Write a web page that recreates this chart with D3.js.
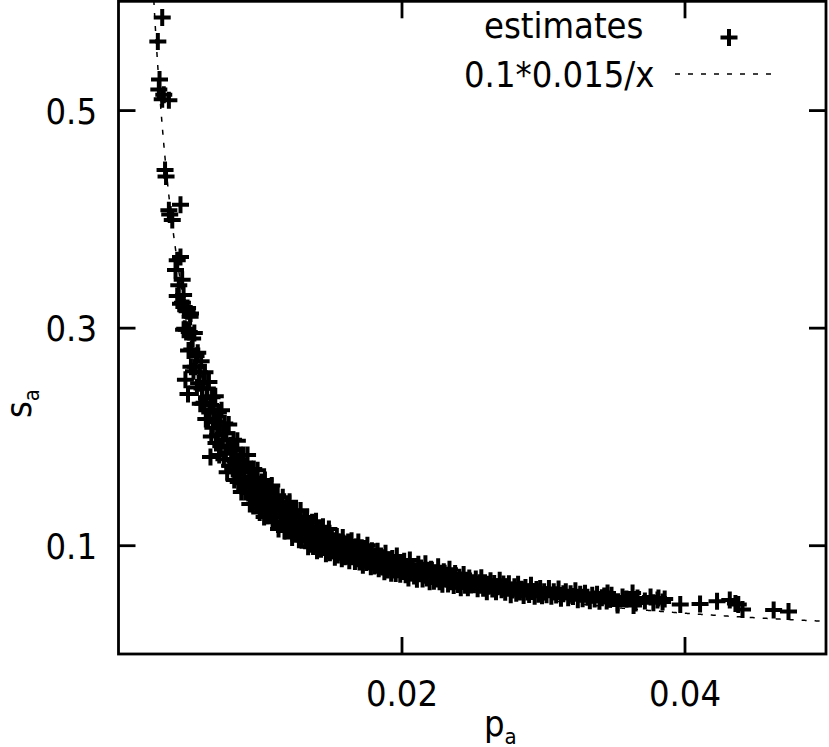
<!DOCTYPE html>
<html><head><meta charset="utf-8">
<script src="https://cdn.jsdelivr.net/npm/d3@7"></script>
<style>body{margin:0;background:#fff}</style>
</head><body><svg id="c" width="829" height="747"></svg>
<script>
const xTicks = [0.02, 0.04];
const yTicks = [0.1, 0.3, 0.5];
const legendLabels = ["estimates", "0.1*0.015/x"];
const fitA = 0.1, fitB = 0.015;
const xDomain = [0, 0.05];
const yDomain = [0, 0.6];

// estimates: [p_a, s_a]
const estimates = [
[0.00309,0.585],[0.00278,0.563],[0.00290,0.528],[0.00285,0.519],[0.00309,0.510],[0.00356,0.509],[0.00320,0.514],
[0.00329,0.445],[0.00336,0.439],[0.00356,0.408],[0.00438,0.413],[0.00380,0.399],[0.00362,0.404],
[0.00415,0.362],[0.00438,0.365],[0.00403,0.353],[0.00450,0.344],[0.00426,0.339],
[0.00415,0.329],[0.00462,0.319],[0.00509,0.313],[0.00438,0.322],[0.00485,0.315],
[0.00491,0.239],[0.00473,0.252],[0.00460,0.298],[0.00650,0.181],
[0.00452,0.323],[0.00460,0.330],[0.00468,0.299],[0.00475,0.316],[0.00480,0.298],[0.00488,0.318],[0.00495,0.279],
[0.00500,0.296],[0.00506,0.310],[0.00512,0.264],[0.00518,0.280],[0.00524,0.290],[0.00530,0.260],[0.00536,0.295],
[0.00542,0.264],[0.00548,0.274],[0.00554,0.245],[0.00560,0.277],[0.00566,0.249],[0.00572,0.259],[0.00578,0.230],
[0.00584,0.269],[0.00590,0.244],[0.00596,0.230],
[0.00600,0.250],[0.00605,0.231],[0.00611,0.259],[0.00617,0.216],[0.00622,0.235],[0.00628,0.244],[0.00633,0.216],
[0.00639,0.250],[0.00645,0.222],[0.00650,0.229],[0.00656,0.200],[0.00661,0.236],[0.00667,0.208],[0.00672,0.225],
[0.00678,0.214],[0.00684,0.237],[0.00689,0.194],[0.00695,0.213],[0.00700,0.201],[0.00706,0.222],[0.00712,0.183],
[0.00717,0.212],[0.00723,0.191],[0.00728,0.224],[0.00734,0.196],[0.00740,0.203],[0.00745,0.179],[0.00751,0.212],
[0.00757,0.185],[0.00762,0.203],[0.00768,0.167],[0.00773,0.190],[0.00779,0.211],[0.00785,0.173],[0.00790,0.192],
[0.00796,0.178],
[0.00802,0.187],[0.00807,0.170],[0.00813,0.197],[0.00818,0.160],[0.00824,0.177],[0.00829,0.187],[0.00835,0.168],
[0.00840,0.196],[0.00846,0.158],[0.00851,0.175],[0.00857,0.167],[0.00862,0.183],[0.00868,0.149],[0.00873,0.174],
[0.00879,0.157],[0.00884,0.183],[0.00890,0.163],[0.00895,0.149],[0.00901,0.173],[0.00906,0.156],[0.00912,0.183],
[0.00917,0.148],[0.00923,0.163],[0.00928,0.138],[0.00934,0.170],[0.00939,0.153],[0.00945,0.162],[0.00950,0.138],
[0.00956,0.170],[0.00961,0.145],[0.00967,0.152],[0.00972,0.162],[0.00978,0.137],[0.00983,0.169],[0.00989,0.144],
[0.00994,0.152],[0.00998,0.130],[0.00810,0.179],[0.00870,0.170],[0.00930,0.157],[0.00960,0.161],
[0.01005,0.147],[0.01011,0.158],[0.01017,0.134],[0.01023,0.150],[0.01029,0.126],[0.01035,0.160],[0.01041,0.136],
[0.01047,0.150],[0.01053,0.127],[0.01059,0.142],[0.01065,0.152],[0.01071,0.130],[0.01077,0.136],[0.01083,0.155],
[0.01089,0.121],[0.01095,0.141],[0.01101,0.128],[0.01107,0.145],[0.01113,0.122],[0.01119,0.133],[0.01125,0.146],
[0.01131,0.115],[0.01137,0.134],[0.01143,0.126],[0.01149,0.138],[0.01155,0.119],[0.01161,0.144],[0.01167,0.126],
[0.01173,0.113],[0.01179,0.131],[0.01185,0.120],[0.01191,0.135],[0.01197,0.114],[0.01203,0.125],[0.01209,0.140],
[0.01215,0.115],[0.01221,0.128],[0.01227,0.107],[0.01233,0.132],[0.01239,0.117],[0.01245,0.122],[0.01251,0.110],
[0.01257,0.132],[0.01263,0.113],[0.01269,0.125],[0.01275,0.105],[0.01281,0.116],[0.01287,0.132],[0.01293,0.108],
[0.01299,0.119],
[0.01305,0.112],[0.01312,0.123],[0.01319,0.104],[0.01326,0.115],[0.01333,0.126],[0.01340,0.0985],[0.01347,0.111],
[0.01354,0.117],[0.01361,0.104],[0.01368,0.121],[0.01375,0.0989],[0.01382,0.110],[0.01389,0.104],[0.01396,0.122],
[0.01403,0.0948],[0.01410,0.111],[0.01417,0.104],[0.01424,0.114],[0.01431,0.0964],[0.01438,0.105],[0.01445,0.117],
[0.01452,0.0978],[0.01459,0.106],[0.01466,0.0921],[0.01473,0.109],[0.01480,0.100],[0.01487,0.115],[0.01494,0.0930],
[0.01501,0.103],[0.01508,0.109],[0.01515,0.0950],[0.01522,0.104],[0.01529,0.0889],[0.01536,0.0977],[0.01543,0.108],
[0.01550,0.0910],[0.01557,0.100],[0.01564,0.0940],[0.01571,0.103],[0.01578,0.0875],[0.01585,0.107],[0.01592,0.0955],
[0.01599,0.0894],
[0.01607,0.0983],[0.01615,0.0898],[0.01623,0.103],[0.01631,0.0858],[0.01639,0.0933],[0.01647,0.104],[0.01655,0.0894],
[0.01663,0.0962],[0.01671,0.0850],[0.01679,0.0983],[0.01687,0.0895],[0.01695,0.103],[0.01703,0.0846],[0.01711,0.0918],
[0.01719,0.0977],[0.01727,0.0816],[0.01735,0.0888],[0.01743,0.0929],[0.01751,0.0840],[0.01759,0.100],[0.01767,0.0849],
[0.01775,0.0896],[0.01783,0.0802],[0.01791,0.0949],[0.01799,0.0862],[0.01807,0.0808],[0.01815,0.0904],[0.01823,0.0834],
[0.01831,0.0945],[0.01839,0.0783],[0.01847,0.0855],[0.01855,0.0900],[0.01863,0.0800],[0.01871,0.0860],[0.01879,0.0756],
[0.01887,0.0927],[0.01895,0.0813],[0.01903,0.0772],[0.01911,0.0863],[0.01919,0.0813],[0.01927,0.0742],[0.01935,0.0879],
[0.01943,0.0772],[0.01951,0.0820],[0.01959,0.0740],[0.01967,0.0900],[0.01975,0.0775],[0.01983,0.0822],[0.01991,0.0733],
[0.01999,0.0840],
[0.02009,0.0776],[0.02019,0.0852],[0.02029,0.0729],[0.02039,0.0799],[0.02049,0.0698],[0.02059,0.0864],[0.02069,0.0744],
[0.02079,0.0798],[0.02089,0.0718],[0.02099,0.0762],[0.02109,0.0688],[0.02119,0.0826],[0.02129,0.0737],[0.02139,0.0790],
[0.02149,0.0689],[0.02159,0.0750],[0.02169,0.0830],[0.02179,0.0698],[0.02189,0.0754],[0.02199,0.0664],[0.02209,0.0779],
[0.02219,0.0712],[0.02229,0.0668],[0.02239,0.0746],[0.02249,0.0689],[0.02259,0.0801],[0.02269,0.0665],[0.02279,0.0715],
[0.02289,0.0642],[0.02299,0.0757],[0.02309,0.0689],[0.02319,0.0724],[0.02329,0.0644],[0.02339,0.0778],[0.02349,0.0664],
[0.02359,0.0699],[0.02369,0.0629],[0.02379,0.0740],[0.02389,0.0670],[0.02399,0.0638],[0.02409,0.0706],[0.02419,0.0608],
[0.02429,0.0671],[0.02439,0.0730],[0.02449,0.0633],[0.02459,0.0679],[0.02469,0.0608],[0.02479,0.0698],[0.02489,0.0635],
[0.02499,0.0656],
[0.02512,0.0637],[0.02525,0.0689],[0.02538,0.0599],[0.02551,0.0655],[0.02564,0.0702],[0.02577,0.0605],[0.02590,0.0656],
[0.02603,0.0572],[0.02616,0.0623],[0.02629,0.0673],[0.02642,0.0598],[0.02655,0.0648],[0.02668,0.0573],[0.02681,0.0619],
[0.02694,0.0679],[0.02707,0.0591],[0.02720,0.0643],[0.02733,0.0567],[0.02746,0.0615],[0.02759,0.0645],[0.02772,0.0545],
[0.02785,0.0589],[0.02798,0.0618],[0.02811,0.0559],[0.02824,0.0641],[0.02837,0.0571],[0.02850,0.0596],[0.02863,0.0538],
[0.02876,0.0612],[0.02889,0.0571],[0.02902,0.0548],[0.02915,0.0631],[0.02928,0.0574],[0.02941,0.0530],[0.02954,0.0592],
[0.02967,0.0549],[0.02980,0.0601],[0.02993,0.0535],
[0.03008,0.0572],[0.03025,0.0545],[0.03042,0.0602],[0.03059,0.0530],[0.03076,0.0572],[0.03093,0.0543],[0.03110,0.0598],
[0.03127,0.0512],[0.03144,0.0553],[0.03161,0.0573],[0.03178,0.0516],[0.03195,0.0554],[0.03212,0.0529],[0.03229,0.0582],
[0.03246,0.0499],[0.03263,0.0549],[0.03280,0.0509],[0.03297,0.0558],[0.03314,0.0522],[0.03331,0.0489],[0.03348,0.0541],
[0.03365,0.0505],[0.03382,0.0550],[0.03399,0.0485],[0.03416,0.0518],[0.03433,0.0533],[0.03450,0.0487],[0.03467,0.0505],
[0.03484,0.0540],
[0.03456,0.0561],[0.03527,0.0469],[0.03633,0.0561],[0.03654,0.0469],[0.03760,0.0524],[0.03816,0.0515],[0.03845,0.0478],
[0.03562,0.0524],[0.03668,0.0515],[0.03809,0.0497],[0.03640,0.0445],[0.03527,0.0451],[0.03590,0.0505],[0.03720,0.0488],
[0.03780,0.0470],[0.03860,0.0505],
[0.03970,0.0455],[0.04110,0.0460],[0.04230,0.0485],[0.04320,0.0497],[0.04360,0.0465],[0.04410,0.0410],[0.04380,0.0455],
[0.04630,0.0405],[0.04735,0.0390]
];

const W = 829, H = 747;
const L = 118.5, R = 826, T = 1.3, B = 654;
const svg = d3.select("#c");
svg.append("rect").attr("width", W).attr("height", H).attr("fill", "#fff");
const x = d3.scaleLinear().domain(xDomain).range([L, R]);
const y = d3.scaleLinear().domain(yDomain).range([B, T]);
const font = "'DejaVu Sans Condensed','DejaVu Sans',sans-serif";
const fs = 36;

svg.append("clipPath").attr("id", "clip").append("rect")
  .attr("x", L).attr("y", T).attr("width", R - L).attr("height", B - T);

const plusPath = "M-8.5,0H8.5M0,-8.5V8.5";
const gPts = svg.append("g").attr("clip-path", "url(#clip)");
gPts.selectAll("path").data(estimates).join("path")
  .attr("transform", d => `translate(${x(d[0])},${y(d[1])})`)
  .attr("d", plusPath).attr("stroke", "#000").attr("stroke-width", 4).attr("fill", "none");

// fit curve 0.1*0.015/x
const curveX = d3.range(0.0024, 0.05005, 0.00005);
const line = d3.line().x(d => x(d)).y(d => y(fitA * fitB / d));
svg.append("path").datum(curveX).attr("clip-path", "url(#clip)").attr("d", line)
  .attr("fill", "none").attr("stroke", "#000").attr("stroke-width", 1.5).attr("stroke-dasharray", "5,8");

// axes
function styleAxis(g) {
  g.select(".domain").remove();
  g.selectAll(".tick line").attr("stroke", "#000").attr("stroke-width", 2.8);
  g.selectAll(".tick text").attr("font-family", font).attr("font-size", fs).attr("fill", "#000");
}
const fmt = d3.format("");
svg.append("g").attr("transform", `translate(0,${B})`)
  .call(d3.axisBottom(x).tickValues(xTicks).tickSize(-17).tickFormat(fmt))
  .call(styleAxis)
  .call(g => g.selectAll(".tick text").attr("y", 52).attr("dy", 0));
svg.append("g").attr("transform", `translate(${L},0)`)
  .call(d3.axisLeft(y).tickValues(yTicks).tickSize(-17).tickFormat(fmt))
  .call(styleAxis)
  .call(g => g.selectAll(".tick text").attr("x", -21.5).attr("dy", 0).attr("y", 13));
svg.append("g").attr("transform", `translate(0,${T})`)
  .call(d3.axisTop(x).tickValues(xTicks).tickSize(-17).tickFormat(""))
  .call(styleAxis);
svg.append("g").attr("transform", `translate(${R},0)`)
  .call(d3.axisRight(y).tickValues(yTicks).tickSize(-17).tickFormat(""))
  .call(styleAxis);

// frame
svg.append("rect").attr("x", L).attr("y", T).attr("width", R - L).attr("height", B - T)
  .attr("fill", "none").attr("stroke", "#000").attr("stroke-width", 2.8);

// axis labels
const xl = svg.append("text").attr("x", 484).attr("y", 736)
  .attr("font-family", font).attr("font-size", fs).attr("fill", "#000");
xl.append("tspan").text("p");
xl.append("tspan").attr("font-size", 22).attr("dy", 8).text("a");

const yl = svg.append("text").attr("transform", "translate(31,418) rotate(-90)")
  .attr("font-family", font).attr("font-size", fs).attr("fill", "#000");
yl.append("tspan").text("s");
yl.append("tspan").attr("font-size", 22).attr("dy", 8).text("a");

// legend
svg.append("text").attr("x", 484).attr("y", 38).attr("font-family", font).attr("font-size", fs).text(legendLabels[0]);
svg.append("path").attr("transform", "translate(729,37.5)").attr("d", plusPath)
  .attr("stroke", "#000").attr("stroke-width", 4);
svg.append("text").attr("x", 464).attr("y", 87).attr("font-family", font).attr("font-size", fs).text(legendLabels[1]);
svg.append("line").attr("x1", 675).attr("x2", 776).attr("y1", 74).attr("y2", 74)
  .attr("stroke", "#000").attr("stroke-width", 1.5).attr("stroke-dasharray", "5,8");
</script>
</body></html>
